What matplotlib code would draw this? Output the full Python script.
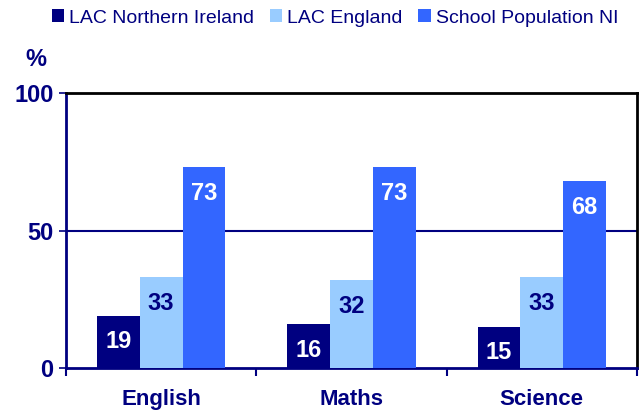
import numpy as np
import matplotlib.pyplot as plt

plt.rcParams['font.family'] = ['Liberation Sans', 'DejaVu Sans']

subjects = ['English', 'Maths', 'Science']
series = ['LAC Northern Ireland', 'LAC England', 'School Population NI']
lac_ni = [19, 16, 15]
lac_eng = [33, 32, 33]
school_ni = [73, 73, 68]

colors = ['#000080', '#99CCFF', '#3366FF']
label_colors = ['white', '#000080', 'white']
navy = '#000080'

fig = plt.figure(figsize=(6.42, 4.12), dpi=100)
ax = fig.add_axes([66/642, 1-368/412, (637-66)/642, (368-93)/412])

x = np.arange(len(subjects))
w = 0.225
for i, (vals, name) in enumerate(zip([lac_ni, lac_eng, school_ni], series)):
    pos = x + (i - 1) * w
    ax.bar(pos, vals, w, color=colors[i], label=name, zorder=3)
    for p, v in zip(pos, vals):
        ax.text(p, v - 9.5, str(v), ha='center', va='center', color=label_colors[i],
                fontsize=17, fontweight='bold', zorder=4)

ax.set_xlim(-0.5, 2.5)
ax.set_ylim(0, 100)
ax.axhline(50, color=navy, lw=1.5, zorder=1)

ax.set_yticks([0, 50, 100])
ax.set_yticklabels(['0', '50', '100'], fontsize=17, fontweight='bold', color=navy)
ax.tick_params(axis='y', direction='out', length=5, color=navy, width=1.2, pad=4)

ax.set_xticks([-0.5, 0.5, 1.5, 2.5])
ax.set_xticklabels([])
ax.set_xticks(x, minor=True)
ax.set_xticklabels(subjects, minor=True, fontsize=16, fontweight='bold', color=navy)
ax.tick_params(axis='x', which='major', direction='out', length=6, color=navy, width=1.5)
ax.tick_params(axis='x', which='minor', length=0, pad=15)

ax.spines['left'].set_color(navy)
ax.spines['bottom'].set_color(navy)
ax.spines['top'].set_color('black')
ax.spines['right'].set_color('black')
for s in ax.spines.values():
    s.set_linewidth(2)

fig.text(36/642, 1-60/412, '%', ha='center', va='center', fontsize=17,
         fontweight='bold', color=navy)

leg = fig.legend(loc='upper left', bbox_to_anchor=(38/642, 1.01), ncol=3, frameon=False,
                 fontsize=14, handlelength=0.65, handleheight=0.65, handletextpad=0.25,
                 columnspacing=0.8, borderaxespad=0.3)
for t in leg.get_texts():
    t.set_color(navy)

fig.savefig('out.png', dpi=100)
